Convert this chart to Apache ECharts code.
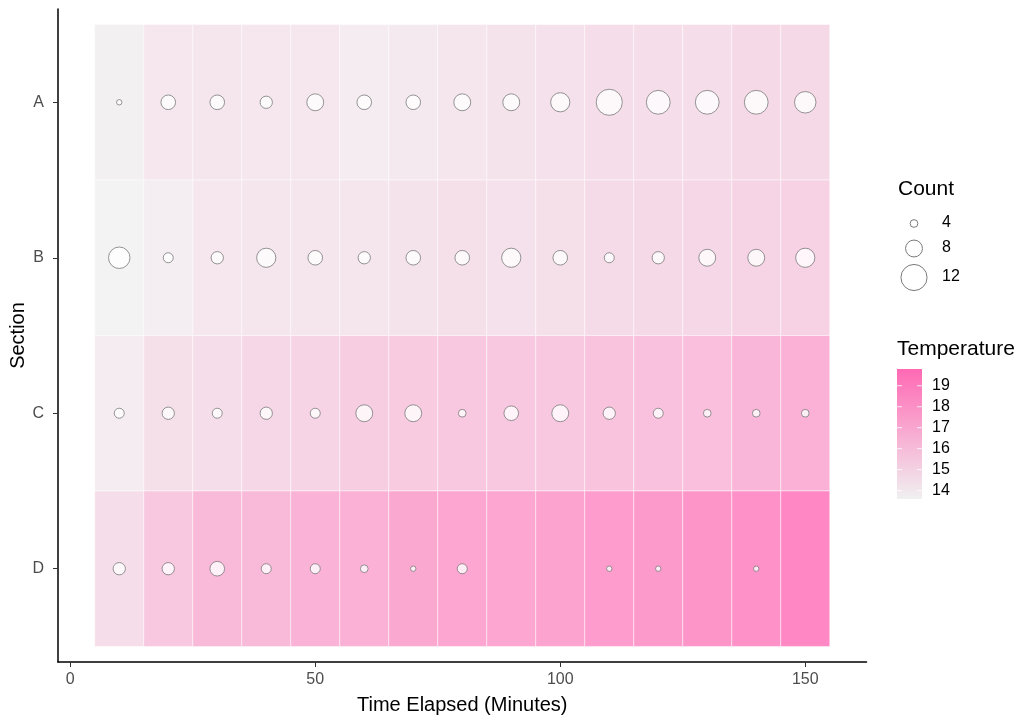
<!DOCTYPE html>
<html><head><meta charset="utf-8">
<script src="https://cdn.jsdelivr.net/npm/echarts@6/dist/echarts.min.js"></script>
<style>html,body{margin:0;padding:0;background:#fff}#c{width:1025px;height:722px}</style>
</head><body><div id="c"></div>
<script>
// ---- data ----
const times = [10,20,30,40,50,60,70,80,90,100,110,120,130,140,150];
const sections = ['A','B','C','D'];
const tempA = [13.8,14.3,14.4,14.3,14.3,14.0,14.2,14.4,14.5,14.6,14.8,14.9,14.9,15.1,15.1];
const tempB = [13.6,13.9,14.3,14.4,14.4,14.4,14.5,14.7,14.6,14.7,15.0,15.1,15.2,15.4,15.5];
const tempC = [14.0,14.7,14.8,15.2,15.4,15.8,15.9,16.1,16.1,16.1,16.4,16.5,16.6,17.1,17.4];
const tempD = [14.8,16.1,16.9,16.9,17.3,17.4,17.9,18.0,18.0,18.2,18.6,18.7,19.0,19.2,19.8];
const countA = [3,7,7,6,8,7,7,8,8,9,12,11,11,11,10];
const countB = [10,5,6,9,7,6,7,7,9,7,5,6,8,8,9];
const countC = [5,6,5,6,5,8,8,4,7,8,6,5,4,4,4];
const countD = [6,6,7,5,5,4,3,5,null,null,3,3,null,3,null];
const xTicks = [0,50,100,150];
const tempTicks = [14,15,16,17,18,19];
const countBreaks = [4,8,12];

// ---- build ----
const temps = {A:tempA,B:tempB,C:tempC,D:tempD};
const counts = {A:countA,B:countB,C:countC,D:countD};
const secPos = s => sections.length - sections.indexOf(s);   // A on top
const tileData = [], dotData = [];
sections.forEach(s => times.forEach((t,i) => {
  tileData.push([t, secPos(s), temps[s][i]]);
  if (counts[s][i] != null) dotData.push([t, secPos(s), counts[s][i]]);
}));
const allT = tileData.map(d => d[2]);
const tMin = Math.min(...allT), tMax = Math.max(...allT);
const lowColor = '#F0F0F0', highColor = '#FF69B4';
const dotSize = c => 2.3 * c - 1.5;
const FONT = '"Liberation Sans", Arial, sans-serif';
const dotStroke = '#7a7a7a';

const chart = echarts.init(document.getElementById('c'), null, {renderer:'canvas'});
const legendY = [223.5, 248.5, 277.5];
const graphic = [
  {type:'text', left:898, top:179, style:{text:'Count', font:'21px ' + FONT, fill:'#000'}},
  {type:'text', left:897, top:339, style:{text:'Temperature', font:'21px ' + FONT, fill:'#000'}}
];
countBreaks.forEach((c,i) => {
  graphic.push({type:'circle', shape:{cx:914, cy:legendY[i], r:dotSize(c)/2},
    style:{fill:'#fff', stroke:dotStroke, lineWidth:1}});
  graphic.push({type:'text', left:942, top:legendY[i]-9, style:{text:String(c), font:'16px ' + FONT, fill:'#000'}});
});

chart.setOption({
  animation:false,
  backgroundColor:'#fff',
  textStyle:{fontFamily:FONT},
  grid:[
    {left:58, top:9, width:808.5, height:653, outerBoundsMode:'none', containLabel:false},
    {left:897, top:369, width:25, height:130, outerBoundsMode:'none', containLabel:false}
  ],
  xAxis:[
    {type:'value', gridIndex:0, min:-2.5, max:162.5,
     axisLine:{onZero:false, lineStyle:{color:'#000', width:1.5}},
     axisTick:{customValues:xTicks, length:5, lineStyle:{color:'#333'}},
     axisLabel:{customValues:xTicks, color:'#4D4D4D', fontSize:16, margin:10},
     splitLine:{show:false},
     name:'Time Elapsed (Minutes)', nameLocation:'middle', nameGap:33, nameMoveOverlap:false,
     nameTextStyle:{fontSize:20, color:'#000'}},
    {type:'value', gridIndex:1, min:0, max:1, show:false}
  ],
  yAxis:[
    {type:'value', gridIndex:0, min:0.4, max:4.6,
     axisLine:{onZero:false, lineStyle:{color:'#000', width:1.5}},
     axisTick:{customValues:[1,2,3,4], length:5, lineStyle:{color:'#333'}},
     axisLabel:{customValues:[1,2,3,4], color:'#4D4D4D', fontSize:16, margin:14,
       formatter: v => sections[sections.length - Math.round(v)]},
     splitLine:{show:false},
     name:'Section', nameLocation:'middle', nameGap:30, nameRotate:90, nameMoveOverlap:false,
     nameTextStyle:{fontSize:20, color:'#000'}},
    {type:'value', gridIndex:1, min:tMin, max:tMax, position:'right',
     axisLine:{show:false}, axisTick:{show:false}, splitLine:{show:false},
     axisLabel:{customValues:tempTicks, color:'#000', fontSize:16, margin:10}}
  ],
  visualMap:{type:'continuous', show:false, seriesIndex:0, dimension:2,
    min:tMin, max:tMax, inRange:{color:[lowColor, highColor]}},
  series:[
    {type:'custom', xAxisIndex:0, yAxisIndex:0, data:tileData, encode:{x:0,y:1},
     renderItem:(params, api) => {
       const x = api.value(0), y = api.value(1);
       const p1 = api.coord([x-5, y+0.5]), p2 = api.coord([x+5, y-0.5]);
       return {type:'rect', shape:{x:p1[0], y:p1[1], width:p2[0]-p1[0], height:p2[1]-p1[1]},
         style:{fill:echarts.color.modifyAlpha(api.visual('color'), 0.8), stroke:'rgba(255,255,255,0.6)', lineWidth:0.8}};
     }},
    {type:'scatter', xAxisIndex:0, yAxisIndex:0, data:dotData, symbol:'circle',
     symbolSize: d => dotSize(d[2]),
     itemStyle:{color:'#fff', borderColor:dotStroke, borderWidth:1}, z:5},
    {type:'custom', xAxisIndex:1, yAxisIndex:1, data:[[0]],
     renderItem:(params, api) => {
       const a = api.coord([0, tMax]), b = api.coord([1, tMin]);
       const children = [{type:'rect', shape:{x:a[0], y:a[1], width:b[0]-a[0], height:b[1]-a[1]},
         style:{fill:new echarts.graphic.LinearGradient(0,0,0,1,[{offset:0,color:highColor},{offset:1,color:lowColor}])}}];
       tempTicks.forEach(t => {
         const y = api.coord([0, t])[1];
         children.push({type:'line', shape:{x1:a[0], y1:y, x2:a[0]+5, y2:y}, style:{stroke:'rgba(255,255,255,0.8)', lineWidth:1}});
         children.push({type:'line', shape:{x1:b[0]-5, y1:y, x2:b[0], y2:y}, style:{stroke:'rgba(255,255,255,0.8)', lineWidth:1}});
       });
       return {type:'group', children};
     }}
  ],
  graphic
});
</script></body></html>
